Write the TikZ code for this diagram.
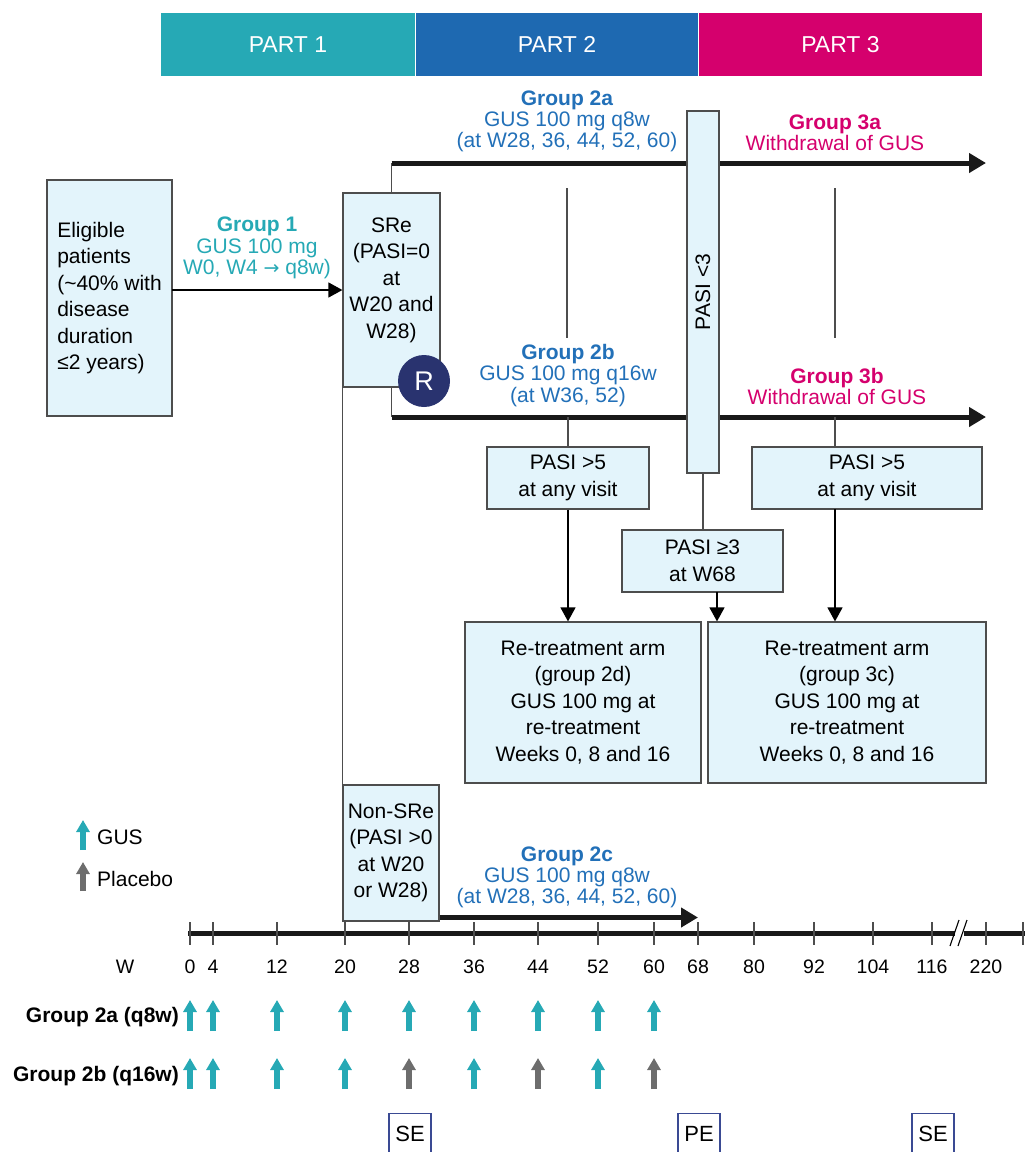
\documentclass[tikz,border=0pt]{standalone}
\usepackage{fontspec}
\setmainfont{Liberation Sans}
\newfontfamily\djv{DejaVu Sans}
\usetikzlibrary{arrows.meta}
\definecolor{cteal}{HTML}{26A9B5}
\definecolor{cblue}{HTML}{1E69B1}
\definecolor{cbluet}{HTML}{2270B8}
\definecolor{cmag}{HTML}{D5006D}
\definecolor{cnavy}{HTML}{29336F}
\definecolor{boxfill}{HTML}{E3F4FB}
\definecolor{boxline}{HTML}{4D4D4D}
\definecolor{cgray}{HTML}{6D6D6D}
\definecolor{seline}{HTML}{3A4A93}
\newcommand{\fs}[2]{\fontsize{#1}{#2}\selectfont}
\begin{document}
\begin{tikzpicture}[x=1pt,y=-1pt,
  hdr/.style={minimum height=63pt,inner sep=0pt,text=white,font=\fs{23}{26}},
  box/.style={draw=boxline,fill=boxfill,line width=1.2pt,inner sep=0pt,align=center,font=\fs{21}{26.5}},
  txt/.style={inner sep=0pt,align=center,font=\fs{21}{26.5}},
  grp/.style={inner sep=0pt,align=center,font=\fs{21}{21.3}},
  thin/.style={draw=boxline,line width=1.3pt},
  thinarrow/.style={draw=black,line width=1.3pt,-{Triangle[length=14pt,width=15pt]}},
  thickarrow/.style={draw=black!90,line width=5pt,-{Triangle[length=17pt,width=19pt]}},
  thickline/.style={draw=black!90,line width=5pt},
  gusarrow/.style={draw=cteal,line width=6pt,-{Triangle[length=12pt,width=13pt]}},
  plcarrow/.style={draw=cgray,line width=6pt,-{Triangle[length=12pt,width=13pt]}},
  tick/.style={draw=boxline,line width=1.1pt},
  wlabel/.style={inner sep=0pt,font=\fs{19.5}{22}},
  sebox/.style={draw=seline,line width=1.2pt,inner sep=0pt,minimum width=42pt,minimum height=40pt,font=\fs{22}{26}}
]
\useasboundingbox (0,0) rectangle (1025,1152);

% header
\node[hdr,fill=cteal,minimum width=254pt] (p1) at (288,44.5) {PART 1};
\node[hdr,fill=cblue,minimum width=282pt] (p2) at (557,44.5) {PART 2};
\node[hdr,fill=cmag,minimum width=283pt] (p3) at (840.5,44.5) {PART 3};

% coordinates of main lines
\coordinate (g2astart) at (391.5,163);
\coordinate (g2aend) at (986,163);
\coordinate (g2bstart) at (391.5,417);
\coordinate (g2bend) at (986,417);

% boxes
\node[box,minimum width=125pt,minimum height=236pt,align=left] (elig) at (109.5,298)
  {Eligible\\patients\\(\textasciitilde40\% with\\disease\\duration\\≤2 years)};
\node[box,minimum width=97pt,minimum height=194pt] (sre) at (391.5,290) {};
\node[txt] (sretxt) at (391.5,280) {SRe\\(PASI=0\\at\\W20 and\\W28)};

% thick group lines
\draw[thin] (sre.north) -- (g2astart);
\draw[thickarrow] (g2astart) -- (g2aend);
\draw[thin] (sre.south) -- (g2bstart);
\draw[thickarrow] (g2bstart) -- (g2bend);

% short vertical lines
\coordinate (va1) at (567,188); \coordinate (va2) at (567,338);
\coordinate (vb1) at (835,188); \coordinate (vb2) at (835,338);
\draw[thin] (va1) -- (va2);
\draw[thin] (vb1) -- (vb2);

% group labels
\node[grp,text=cteal] (g1lab) at (257,248) {\textbf{Group 1}\\GUS 100 mg\\W0, W4 {\djv\fs{19}{21}→} q8w)};
\node[grp,text=cbluet] (g2alab) at (567,121.5) {\textbf{Group 2a}\\GUS 100 mg q8w\\(at W28, 36, 44, 52, 60)};
\node[grp,text=cmag] (g3alab) at (835,132.5) {\textbf{Group 3a}\\Withdrawal of GUS};
\node[grp,text=cbluet] (g2blab) at (568,375.5) {\textbf{Group 2b}\\GUS 100 mg q16w\\(at W36, 52)};
\node[grp,text=cmag] (g3blab) at (837,386.5) {\textbf{Group 3b}\\Withdrawal of GUS};
\node[grp,text=cbluet] (g2clab) at (567,877.5) {\textbf{Group 2c}\\GUS 100 mg q8w\\(at W28, 36, 44, 52, 60)};

% eligible -> SRe
\coordinate (earrow) at (172,290);
\draw[thinarrow] (earrow) -- (earrow -| sre.west);

% PASI <3 vertical box
\node[box,minimum width=362pt,minimum height=32pt,rotate=90] (pasi3) at (703,292) {PASI <3};

% R circle
\node[circle,fill=cnavy,minimum size=52pt,inner sep=0pt,text=white,font=\fs{27}{30}] (R) at (424,381) {R};

% PASI boxes
\node[box,minimum width=162pt,minimum height=62pt] (pasi5a) at (568,478) {PASI >5\\at any visit};
\node[box,minimum width=230pt,minimum height=62pt] (pasi5b) at (867,478) {PASI >5\\at any visit};
\node[box,minimum width=161pt,minimum height=62pt] (pasi3ge) at (702.5,561) {PASI ≥3\\at W68};

% re-treatment boxes
\node[box,minimum width=236pt,minimum height=161pt] (rt2d) at (583,702.5)
  {Re-treatment arm\\(group 2d)\\GUS 100 mg at\\re-treatment\\Weeks 0, 8 and 16};
\node[box,minimum width=278pt,minimum height=161pt] (rt3c) at (847,702.5)
  {Re-treatment arm\\(group 3c)\\GUS 100 mg at\\re-treatment\\Weeks 0, 8 and 16};

% connectors
\draw[thin] (pasi5a.north |- g2bstart) -- (pasi5a.north);
\draw[thinarrow] (pasi5a.south) -- (pasi5a.south |- rt2d.north);
\coordinate (b3top) at (835,417);
\draw[thin] (b3top) -- (b3top |- pasi5b.north);
\coordinate (b3bot) at (835,509);
\draw[thinarrow] (b3bot) -- (b3bot |- rt3c.north);
\draw[thin] (pasi3.west) -- (pasi3.west |- pasi3ge.north);
\coordinate (gebot) at (717,592);
\draw[thinarrow] (gebot) -- (gebot |- rt3c.north);

% Non-SRe
\node[box,minimum width=96pt,minimum height=136pt] (nonsre) at (391,853) {Non-SRe\\(PASI >0\\at W20\\or W28)};
\draw[thin] (sre.south west) -- (nonsre.north west);
\coordinate (g2cend) at (698,917.5);
\draw[thickarrow] (nonsre.east |- g2cend) -- (g2cend);

% legend
\coordinate (lg1b) at (83,850); \coordinate (lg1t) at (83,820);
\coordinate (lg2b) at (83,891); \coordinate (lg2t) at (83,862);
\draw[gusarrow] (lg1b) -- (lg1t);
\draw[plcarrow] (lg2b) -- (lg2t);
\node[anchor=west,inner sep=0pt,font=\fs{21}{24}] (leggus) at (97,837) {GUS};
\node[anchor=west,inner sep=0pt,font=\fs{21}{24}] (legplc) at (97,879) {Placebo};

% timeline
\coordinate (tl0) at (188,933);
\coordinate (tlbl) at (955,933);
\coordinate (tlbr) at (964,933);
\coordinate (tlend) at (1025,933);
\draw[thickline] (tl0) -- (tlbl);
\draw[thickline] (tlbr) -- (tlend);
\draw[line width=1.1pt] (950,946) -- (959,920);
\draw[line width=1.1pt] (958,946) -- (967,920);
\foreach \xx/\lab in {190/0,213/4,277/12,345/20,409/28,474/36,538/44,598/52,654/60,698/68,754/80,814/92,873/104,932/116,986/220}{
  \draw[tick] (\xx,922) -- (\xx,945);
  \node[wlabel] (tl\lab) at (\xx,967) {\lab};
}
\draw[tick] (1023,922) -- (1023,945);
\node[wlabel] (wlab) at (125,967) {W};

% dose rows
\node[anchor=east,inner sep=0pt,font=\bfseries\fs{21}{24}] (row2a) at (179,1017) {Group 2a (q8w)};
\node[anchor=east,inner sep=0pt,font=\bfseries\fs{21}{24}] (row2b) at (179,1076) {Group 2b (q16w)};
\foreach \xx in {190,213,277,345,409,474,538,598,654}{
  \draw[gusarrow] (\xx,1031) -- (\xx,1000);
}
\foreach \xx/\st in {190/gusarrow,213/gusarrow,277/gusarrow,345/gusarrow,409/plcarrow,474/gusarrow,538/plcarrow,598/gusarrow,654/plcarrow}{
  \draw[\st] (\xx,1089) -- (\xx,1058);
}

% SE / PE
\node[sebox] (se1) at (410,1133.5) {SE};
\node[sebox] (pe) at (699,1133.5) {PE};
\node[sebox] (se2) at (933,1133.5) {SE};
\end{tikzpicture}
\end{document}
